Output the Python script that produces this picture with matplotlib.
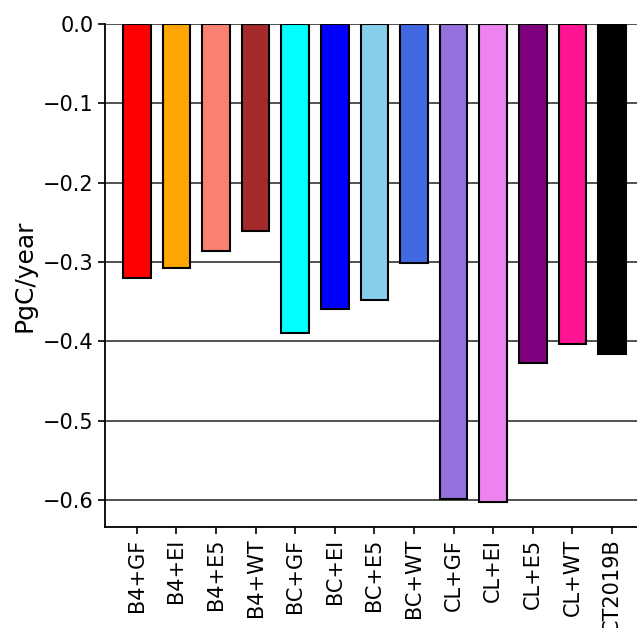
import matplotlib
matplotlib.use("Agg")
import matplotlib.pyplot as plt

# Annual carbon flux per experiment
experiments = ['B4+GF', 'B4+EI', 'B4+E5', 'B4+WT',
               'BC+GF', 'BC+EI', 'BC+E5', 'BC+WT',
               'CL+GF', 'CL+EI', 'CL+E5', 'CL+WT', 'CT2019B']
flux = [-0.320, -0.308, -0.286, -0.261,
        -0.390, -0.359, -0.348, -0.301,
        -0.599, -0.603, -0.427, -0.404, -0.416]
bar_colors = ['red', 'orange', 'salmon', 'brown',
              'cyan', 'blue', 'skyblue', 'royalblue',
              'mediumpurple', 'violet', 'purple', 'deeppink', 'black']

fig = plt.figure(figsize=(6.37, 6.28), dpi=100)
ax = fig.add_axes([0.165, 0.161, 0.8455, 0.801])

x = range(len(experiments))
ax.bar(x, flux, width=0.7, color=bar_colors, edgecolor='black',
       linewidth=1.5, zorder=3)

ax.yaxis.grid(True, color='#333333', linewidth=1.2, zorder=0)
ax.set_axisbelow(True)

ax.set_xlim(-0.8, 12.8)
ax.set_ylim(-0.634, 0.0)
ax.set_yticks([0.0, -0.1, -0.2, -0.3, -0.4, -0.5, -0.6])
ax.set_xticks(list(x))
ax.set_xticklabels(experiments, rotation=90)
ax.tick_params(axis='both', labelsize=15, length=5, width=1.2)
ax.set_ylabel('PgC/year', fontsize=18)

for side in ['left', 'bottom']:
    ax.spines[side].set_linewidth(1.3)
ax.spines['top'].set_visible(False)

fig.savefig('out.png', dpi=100)
